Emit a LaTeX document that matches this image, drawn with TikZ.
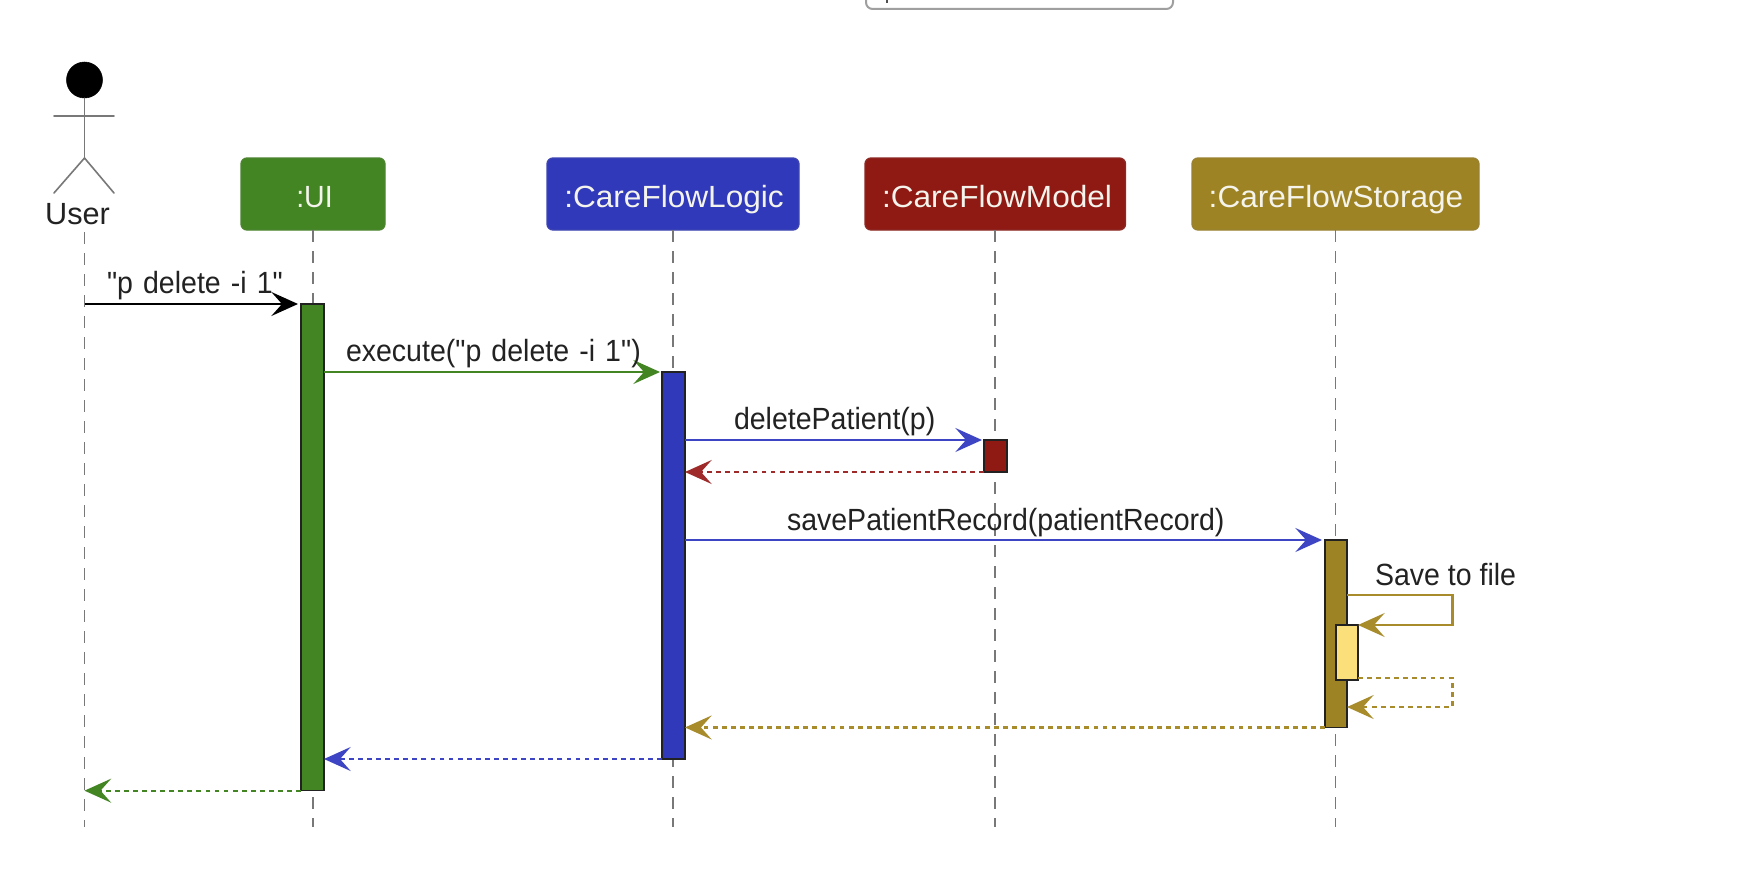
\documentclass[tikz,border=0pt]{standalone}
\usepackage{fontspec}
\setmainfont{Liberation Sans}
\newfontfamily\msgfont{Liberation Sans}[FakeStretch=0.93]
\newfontfamily\boxfont{Liberation Sans}[FakeStretch=1.03]
\usetikzlibrary{arrows.meta,calc}
\definecolor{cgreen}{HTML}{438522}
\definecolor{cblue}{HTML}{3139BB}
\definecolor{cblueline}{HTML}{3D45C4}
\definecolor{cred}{HTML}{8F1A14}
\definecolor{credline}{HTML}{9E2A2A}
\definecolor{cgold}{HTML}{9E8324}
\definecolor{cgoldline}{HTML}{A88C2C}
\definecolor{cyellow}{HTML}{FBDF7A}
\definecolor{cline}{HTML}{787878}
\definecolor{ctext}{HTML}{222222}
\definecolor{cwhite}{HTML}{F4F4EC}
\tikzset{
  x=0.75pt, y=-0.75pt,
  txt/.style={font=\fontsize{23}{28}\selectfont, inner sep=0pt, outer sep=0pt},
  msgtext/.style={font=\msgfont\fontsize{23}{28}\selectfont, inner sep=0pt, outer sep=0pt, text=ctext, anchor=base west},
  widemsg/.style={msgtext, execute at begin node={\spaceskip=7.6pt\relax}},
  boxtext/.style={font=\boxfont\fontsize{23}{28}\selectfont, inner sep=0pt, outer sep=0pt, text=cwhite, anchor=base},
  head/.style={rectangle, rounded corners=4.5pt, draw=#1!85!gray, fill=#1, line width=1pt,
     inner sep=0pt, outer sep=0pt, minimum height=54pt, anchor=north west},
  lifeline/.style={draw=cline, line width=1.2pt, dash pattern=on 9pt off 6.75pt},
  bar/.style={draw=ctext, fill=#1, line width=1.1pt, inner sep=0pt, outer sep=0pt, anchor=north west},
  tiphead/.style={-{Stealth[length=20pt,width=18pt,inset=8pt]}},
  call/.style={tiphead, draw=#1, line width=1.6pt},
  ret/.style={tiphead, draw=#1, line width=1.6pt, dash pattern=on 3.6pt off 3.2pt},
  actorline/.style={draw=cline, line width=1.2pt, line cap=round},
}
\begin{document}
\begin{tikzpicture}
\useasboundingbox (0,0) rectangle (1756,892);
\fill[white] (0,0) rectangle (1756,892);
% cropped box at the top
\coordinate (topL) at (866,0);
\coordinate (topR) at (1173,0);
\draw[draw=gray!75, line width=1.5pt, rounded corners=5pt] ($(topL)+(0,-8)$) -- (866,9) -- (1173,9) -- ($(topR)+(0,-8)$);
\draw[draw=ctext!80, line width=1.5pt] (887,-1) -- (887,3);
% actor
\node[circle, fill=black, draw=black, minimum size=27pt, inner sep=0pt] (ahead) at (84.5,80) {};
\coordinate (aneck) at (84.5,158);
\coordinate (aleft) at (54,116);
\coordinate (aright) at (114,116);
\coordinate (afootl) at (54,193);
\coordinate (afootr) at (114,193);
\draw[actorline] (ahead.south) -- (aneck);
\draw[actorline] (aleft) -- (aright);
\draw[actorline] (afootl) -- (aneck) -- (afootr);
\node[txt, text=ctext, anchor=base] (userlabel) at (77.5,224) {User};
% participants
\node[head=cgreen, minimum width=108pt] (ui) at (241,158) {};
\node[boxtext, font=\msgfont\fontsize{23}{28}\selectfont] (uit) at (314.5,207) {:UI};
\node[head=cblue, minimum width=189pt] (logic) at (547,158) {};
\node[boxtext] (logict) at (674,207) {:CareFlowLogic};
\node[head=cred, minimum width=195.4pt] (model) at (865,158) {};
\node[boxtext] (modelt) at (997,207) {:CareFlowModel};
\node[head=cgold, minimum width=215.25pt] (store) at (1192,158) {};
\node[boxtext] (storet) at (1336,207) {:CareFlowStorage};
% lifeline ends
\coordinate (userTop) at (84.5,232);
\coordinate (userEnd) at (84.5,827);
\coordinate (uiEnd) at (ui.south |- userEnd);
\coordinate (logicEnd) at (logic.south |- userEnd);
\coordinate (modelEnd) at (model.south |- userEnd);
\coordinate (storeEnd) at (store.south |- userEnd);
\draw[lifeline] (userTop) -- (userEnd);
\draw[lifeline] (ui.south) -- (uiEnd);
\draw[lifeline] (logic.south) -- (logicEnd);
\draw[lifeline] (model.south) -- (modelEnd);
\draw[lifeline] (store.south) -- (storeEnd);
% activation bars
\node[bar=cgreen, minimum width=17.25pt, minimum height=365pt] (barUI) at (301,304) {};
\node[bar=cblue, minimum width=17.25pt, minimum height=290.25pt] (barLogic) at (662,372) {};
\node[bar=cred, minimum width=17.25pt, minimum height=24pt] (barModel) at (984,440) {};
\node[bar=cgold, minimum width=16.5pt, minimum height=140.6pt] (barStore) at (1325,540) {};
\node[bar=cyellow, minimum width=16.5pt, minimum height=41.25pt] (barSave) at (1336,625) {};
% messages
\draw[call=black] (userTop |- barUI.north) -- ($(barUI.north west)+(-3,0)$);
\node[widemsg] (m1) at (107,293) {"p delete -i 1"};
\draw[call=cgreen] (barUI.east |- barLogic.north) -- ($(barLogic.north west)+(-2,0)$);
\node[widemsg] (m2) at (346,361) {execute("p delete -i 1")};
\draw[call=cblueline] (barLogic.east |- barModel.north) -- ($(barModel.north west)+(-2,0)$);
\node[msgtext] (m3) at (734,429) {deletePatient(p)};
\draw[ret=credline] (barModel.south west) -- (barLogic.east |- barModel.south);
\draw[call=cblueline] (barLogic.east |- barStore.north) -- ($(barStore.north west)+(-3,0)$);
\node[msgtext] (m5) at (787,530) {savePatientRecord(patientRecord)};
\coordinate (selfA) at (barStore.east |- 0,595);
\coordinate (selfB) at (1452.5,595);
\coordinate (selfC) at (1452.5,625);
\draw[call=cgoldline] (selfA) -- (selfB) -- (selfC) -- (barSave.north east);
\node[msgtext] (m6) at (1375,585) {Save to file};
\coordinate (selfS) at ($(barSave.south east)+(0,-2)$);
\coordinate (selfD) at (selfB |- selfS);
\coordinate (selfE) at (1452.5,707);
\draw[ret=cgoldline] (selfS) -- (selfD) -- (selfE) -- (barStore.east |- selfE);
\draw[ret=cgoldline] (barStore.south west) -- (barLogic.east |- barStore.south);
\draw[ret=cblueline] (barLogic.south west) -- (barUI.east |- barLogic.south);
\draw[ret=cgreen] (barUI.south west) -- (userTop |- barUI.south);
\end{tikzpicture}
\end{document}
